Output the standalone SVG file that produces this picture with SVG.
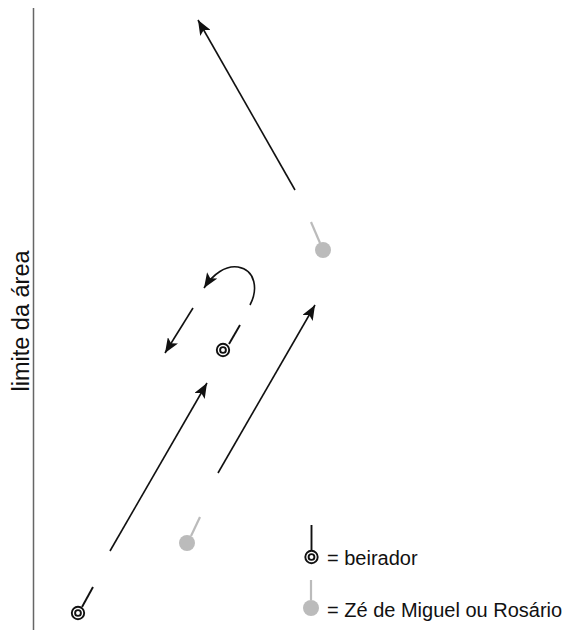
<svg xmlns="http://www.w3.org/2000/svg" width="570" height="630" viewBox="0 0 570 630">
<style>
.arr{stroke:#111;stroke-width:1.6;fill:none;marker-end:url(#ah)}
.stick{stroke:#111;stroke-width:1.9}
.ring{stroke:#111;stroke-width:1.9;fill:#fff}
.gstick{stroke:#bbb;stroke-width:2.2}
.gdot{fill:#bbb}
text{font-family:"Liberation Sans",Arial,sans-serif;fill:#111}
</style>
<defs>
<marker id="ah" markerUnits="userSpaceOnUse" markerWidth="16" markerHeight="12" refX="15" refY="6" orient="auto">
<path d="M0,0 L15,6 L0,12 L3.5,6 z" fill="#111"/>
</marker>
<g id="beir">
<circle class="ring" r="6.2"/>
<circle class="ring" r="2.9" stroke-width="1.4"/>
</g>
</defs>
<rect width="570" height="630" fill="#fff"/>
<g id="boundary">
<line x1="33.5" y1="8" x2="33.5" y2="630" stroke="#666" stroke-width="1.5"/>
<text transform="translate(29,321) rotate(-90)" text-anchor="middle" font-size="23.5">limite da área</text>
</g>
<g id="connectors">
<line class="arr" x1="295" y1="190" x2="198" y2="20"/>
<line class="arr" x1="110" y1="551" x2="207" y2="383"/>
<line class="arr" x1="218" y1="473" x2="315" y2="305"/>
<line class="arr" x1="193" y1="308" x2="165" y2="353"/>
<path class="arr" d="M250,305 C258,290 256,270 238,267 C226,265 213,274 204,288"/>
</g>
<g id="beirador-center">
<line class="stick" x1="229" y1="344" x2="240" y2="325"/>
<use href="#beir" x="223" y="350"/>
</g>
<g id="beirador-bottom">
<line class="stick" x1="82" y1="607" x2="93" y2="587"/>
<use href="#beir" x="78" y="613"/>
</g>
<g id="ze-bottom">
<line class="gstick" x1="191" y1="536" x2="200" y2="517"/>
<circle class="gdot" cx="187" cy="543" r="8"/>
</g>
<g id="ze-top">
<line class="gstick" x1="320" y1="243" x2="311" y2="222"/>
<circle class="gdot" cx="323" cy="250" r="8"/>
</g>
<g id="legend">
<line class="stick" x1="311.5" y1="525" x2="311.5" y2="550"/>
<use href="#beir" x="311.5" y="557"/>
<text x="327" y="565" font-size="20">= beirador</text>
<line class="gstick" x1="311" y1="580" x2="311" y2="600"/>
<circle class="gdot" cx="311" cy="608" r="8"/>
<text x="327" y="617" font-size="20">= Zé de Miguel ou Rosário</text>
</g>
</svg>
